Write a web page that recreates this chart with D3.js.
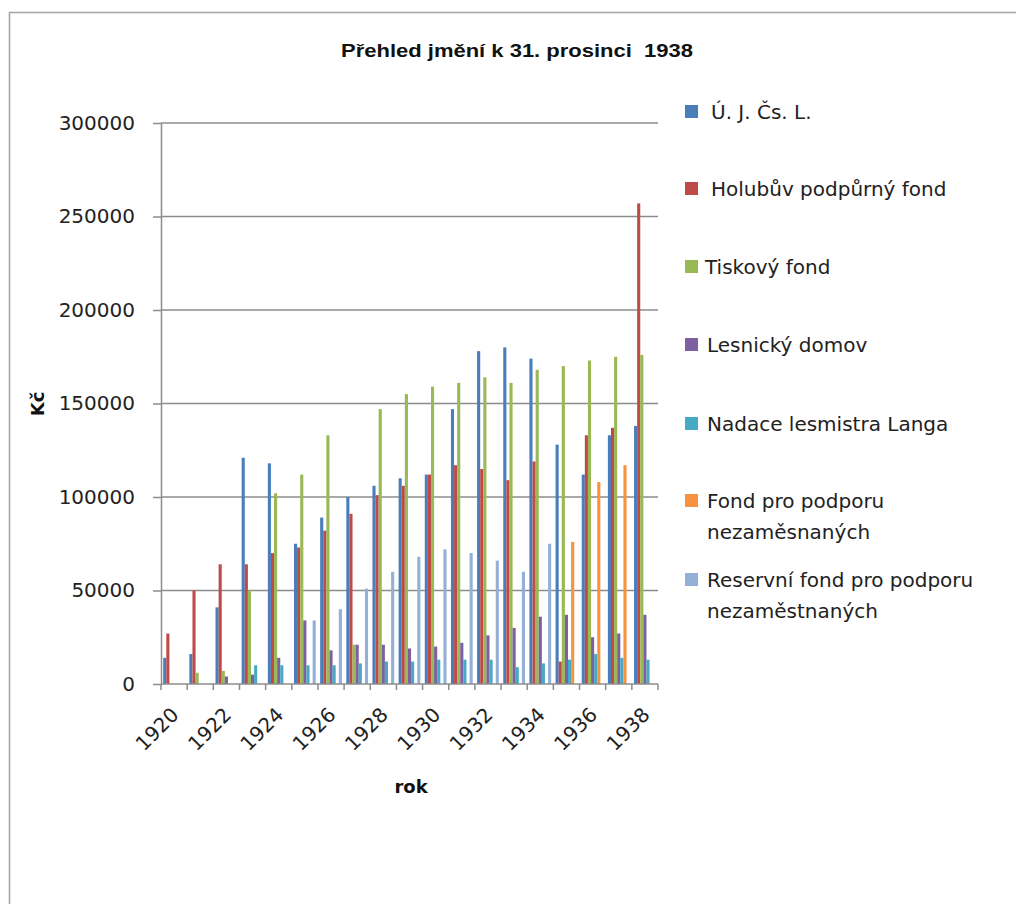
<!DOCTYPE html>
<html>
<head>
<meta charset="utf-8">
<script src="https://cdn.jsdelivr.net/npm/d3@7/dist/d3.min.js"></script>
<style>
  body { margin: 0; background: #fff; }
  text { white-space: pre; }
</style>
</head>
<body>
<script>
const years = [1920,1921,1922,1923,1924,1925,1926,1927,1928,1929,1930,1931,1932,1933,1934,1935,1936,1937,1938];
const yearLabels = [1920,1922,1924,1926,1928,1930,1932,1934,1936,1938];
const yTicks = [0,50000,100000,150000,200000,250000,300000];

const seriesNames = [
  "Ú. J. Čs. L.",
  "Holubův podpůrný fond",
  "Tiskový fond",
  "Lesnický domov",
  "Nadace lesmistra Langa",
  "Fond pro podporu nezaměsnaných",
  "Reservní fond pro podporu nezaměstnaných"
];
const legendLines = [
  ["Ú. J. Čs. L."],
  ["Holubův podpůrný fond"],
  ["Tiskový fond"],
  ["Lesnický domov"],
  ["Nadace lesmistra Langa"],
  ["Fond pro podporu", "nezaměsnaných"],
  ["Reservní fond pro podporu", "nezaměstnaných"]
];

const ujCsl    = [14000,16000,41000,121000,118000,75000,89000,100000,106000,110000,112000,147000,178000,180000,174000,128000,112000,133000,138000];
const holubuv  = [27000,50000,64000,64000,70000,73000,82000,91000,101000,106000,112000,117000,115000,109000,119000,12000,133000,137000,257000];
const tiskovy  = [0,6000,7000,50000,102000,112000,133000,21000,147000,155000,159000,161000,164000,161000,168000,170000,173000,175000,176000];
const lesnicky = [0,0,4000,5000,14000,34000,18000,21000,21000,19000,20000,22000,26000,30000,36000,37000,25000,27000,37000];
const nadace   = [0,0,0,10000,10000,10000,10000,11000,12000,12000,13000,13000,13000,9000,11000,13000,16000,14000,13000];
const fondNez  = [0,0,0,0,0,0,0,0,0,0,0,0,0,0,0,76000,108000,117000,0];
const reservni = [0,0,0,0,0,34000,40000,51000,60000,68000,72000,70000,66000,60000,75000,0,0,0,0];

const seriesValues = [ujCsl, holubuv, tiskovy, lesnicky, nadace, fondNez, reservni];
const colors = ["#4a7ebb","#be4b48","#98b954","#7d60a0","#46aac5","#f69240","#94b0d6"];

const W = 1016, H = 904;
const svg = d3.select("body").append("svg").attr("width", W).attr("height", H);

// outer frame
svg.append("rect").attr("x", 9.5).attr("y", 12.5).attr("width", 1100).attr("height", 1000)
  .attr("fill", "none").attr("stroke", "#a6a6a6").attr("stroke-width", 1.6);

const plotL = 161, plotR = 658, plotT = 123, plotB = 684;
const x0 = d3.scaleBand().domain(years).range([plotL, plotR]).padding(0);
const x1 = d3.scaleBand().domain(d3.range(seriesNames.length)).range([2.2, x0.bandwidth() - 2.2]).padding(0);
const y = d3.scaleLinear().domain([0, 300000]).range([plotB, plotT]);

const gridColor = "#8c8c8c";

// gridlines
svg.append("g").selectAll("line").data(yTicks.filter(d => d > 0)).join("line")
  .attr("x1", plotL).attr("x2", plotR)
  .attr("y1", d => y(d)).attr("y2", d => y(d))
  .attr("stroke", gridColor).attr("stroke-width", 1.5);

// y axis
const yAxis = svg.append("g").attr("transform", `translate(${plotL},0)`)
  .call(d3.axisLeft(y).tickValues(yTicks).tickSizeInner(8).tickSizeOuter(0).tickPadding(18).tickFormat(d3.format("d")));
yAxis.select(".domain").attr("stroke", gridColor).attr("stroke-width", 1.5);
yAxis.selectAll(".tick line").attr("stroke", gridColor).attr("stroke-width", 1.5);
yAxis.selectAll(".tick text").attr("font-family", "DejaVu Sans").attr("font-size", 20).attr("fill", "#222");

// bars
const groups = svg.append("g").selectAll("g").data(years).join("g")
  .attr("transform", d => `translate(${x0(d)},0)`);
groups.selectAll("rect").data((yr, i) => seriesValues.map((vals, s) => ({s, v: vals[i]})))
  .join("rect")
  .attr("x", d => x1(d.s))
  .attr("width", x1.bandwidth())
  .attr("y", d => y(d.v))
  .attr("height", d => plotB - y(d.v))
  .attr("fill", d => colors[d.s]);

// x axis line
svg.append("line").attr("x1", plotL).attr("x2", plotR).attr("y1", plotB).attr("y2", plotB)
  .attr("stroke", gridColor).attr("stroke-width", 1.5);
// x tick marks at band boundaries
const boundaries = years.map(d => x0(d)).concat([plotR]);
svg.append("g").selectAll("line").data(boundaries).join("line")
  .attr("x1", d => d).attr("x2", d => d).attr("y1", plotB).attr("y2", plotB + 6)
  .attr("stroke", gridColor).attr("stroke-width", 1.5);
// x labels
svg.append("g").selectAll("text").data(yearLabels).join("text")
  .attr("transform", d => `translate(${x0(d) + x0.bandwidth() / 2 + 6},${plotB + 32}) rotate(-45)`)
  .attr("text-anchor", "end")
  .attr("font-family", "DejaVu Sans").attr("font-size", 20).attr("fill", "#222")
  .text(d => d);

// title
svg.append("text").attr("x", 517).attr("y", 57).attr("text-anchor", "middle")
  .attr("font-family", "Liberation Sans").attr("font-weight", "bold").attr("font-size", 19)
  .attr("textLength", 352).attr("lengthAdjust", "spacingAndGlyphs")
  .attr("fill", "#111")
  .text("Přehled jmění k 31. prosinci  1938");

// axis titles
svg.append("text").attr("transform", "translate(44,404) rotate(-90)").attr("text-anchor", "middle")
  .attr("font-family", "DejaVu Sans").attr("font-weight", "bold").attr("font-size", 18).attr("fill", "#111")
  .text("Kč");
svg.append("text").attr("x", 411).attr("y", 793).attr("text-anchor", "middle")
  .attr("font-family", "DejaVu Sans").attr("font-weight", "bold").attr("font-size", 18).attr("fill", "#111")
  .text("rok");

// legend
const legendY = [119, 196, 274, 352, 431, 508, 587];
const legendTextX = [711, 711, 705, 707, 707, 707, 707];
const lg = svg.append("g");
seriesNames.forEach((name, i) => {
  lg.append("rect").attr("x", 685).attr("y", legendY[i] - 14).attr("width", 13).attr("height", 13)
    .attr("fill", colors[i]);
  const t = lg.append("text").attr("x", legendTextX[i]).attr("y", legendY[i])
    .attr("font-family", "DejaVu Sans").attr("font-size", 20).attr("fill", "#222");
  legendLines[i].forEach((ln, j) => {
    t.append("tspan").attr("x", legendTextX[i]).attr("dy", j === 0 ? 0 : 31).text(ln);
  });
});
</script>
</body>
</html>
